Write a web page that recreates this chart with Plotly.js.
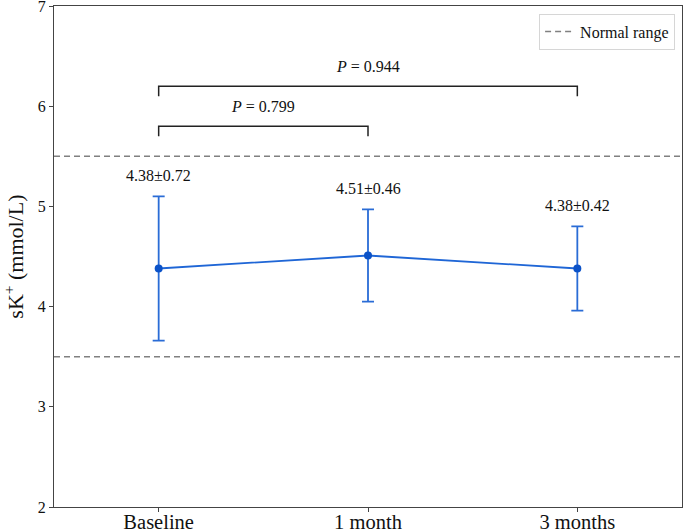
<!DOCTYPE html>
<html>
<head>
<meta charset="utf-8">
<script src="https://cdn.plot.ly/plotly-3.0.1.min.js"></script>
<style>html,body{margin:0;padding:0;background:#fff;}#chart{width:685px;height:532px;}</style>
</head>
<body>
<div id="chart"></div>
<script>
// ---- data ----
const categories = ['Baseline', '1 month', '3 months'];
const means = [4.38, 4.51, 4.38];
const sds = [0.72, 0.46, 0.42];
const valueLabels = ['4.38±0.72', '4.51±0.46', '4.38±0.42'];
const normalRange = [3.5, 5.5];
const compFrom = [0, 0];
const compTo = [1, 2];
const compP = ['0.799', '0.944'];
const compLevel = [5.8, 6.2];
const yTicks = [2, 3, 4, 5, 6, 7];
const yTitle = 'sK<sup>+</sup> (mmol/L)';

const xIdx = categories.map((c, i) => i);
const xRange = [-0.5, categories.length - 0.5];
const FONT = 'Liberation Serif, Times New Roman, serif';

const traces = [
  {
    x: xRange, y: [normalRange[1], normalRange[1]], type: 'scatter', mode: 'lines',
    name: 'Normal range', line: {color: '#808080', width: 1.5, dash: '6px,4px'},
    showlegend: true, hoverinfo: 'skip'
  },
  {
    x: xRange, y: [normalRange[0], normalRange[0]], type: 'scatter', mode: 'lines',
    name: 'Normal range', line: {color: '#808080', width: 1.5, dash: '6px,4px'},
    showlegend: false, hoverinfo: 'skip'
  },
  {
    x: xIdx, y: means, type: 'scatter', mode: 'lines+markers',
    name: 'sK+', showlegend: false,
    line: {color: '#1f66d6', width: 1.8},
    marker: {color: '#0b52c8', size: 8},
    error_y: {type: 'data', array: sds, visible: true, color: '#2a6cd6', thickness: 1.8, width: 6}
  }
];

const annotations = [];
xIdx.forEach((x, i) => {
  annotations.push({
    x: x, y: means[i] + sds[i] + 0.1, xref: 'x', yref: 'y',
    text: valueLabels[i], showarrow: false, yanchor: 'bottom', xanchor: 'center',
    font: {family: FONT, size: 16, color: '#111'}
  });
});

const shapes = [];
compFrom.forEach((f, k) => {
  const t = compTo[k], lv = compLevel[k];
  shapes.push({type: 'path', xref: 'x', yref: 'y',
    path: `M ${f},${lv - 0.1} L ${f},${lv} L ${t},${lv} L ${t},${lv - 0.1}`,
    line: {color: '#222', width: 1.5}});
  annotations.push({
    x: (f + t) / 2, y: lv + 0.09, xref: 'x', yref: 'y',
    text: '<i>P</i> = ' + compP[k], showarrow: false, yanchor: 'bottom', xanchor: 'center',
    font: {family: FONT, size: 16, color: '#111'}
  });
});

// y-axis title placed as a rotated annotation in the left margin
annotations.push({
  x: -0.065, y: 0.5, xref: 'paper', yref: 'paper', xanchor: 'center', yanchor: 'middle',
  text: yTitle, textangle: -90, showarrow: false,
  font: {family: FONT, size: 22, color: '#111'}
});

const layout = {
  width: 685, height: 532,
  margin: {l: 54, r: 3, t: 6, b: 25},
  paper_bgcolor: '#fff', plot_bgcolor: '#fff',
  font: {family: FONT, color: '#111'},
  showlegend: true,
  legend: {
    x: 0.989, y: 0.985, xanchor: 'right', yanchor: 'top',
    bgcolor: 'rgba(255,255,255,0.9)', bordercolor: '#d6d6d6', borderwidth: 1,
    font: {family: FONT, size: 16, color: '#111'}
  },
  xaxis: {
    range: xRange, tickvals: xIdx, ticktext: categories,
    showgrid: false, zeroline: false, showline: true, mirror: true,
    linecolor: '#444', linewidth: 1, ticks: 'outside', ticklen: 4, tickcolor: '#444',
    tickfont: {family: FONT, size: 20.5, color: '#111'}, automargin: false,
    ticklabeloverflow: 'allow', ticklabelstandoff: -8
  },
  yaxis: {
    range: [2, 7], tickvals: yTicks,
    showgrid: false, zeroline: false, showline: true, mirror: true,
    linecolor: '#444', linewidth: 1, ticks: 'outside', ticklen: 4, tickcolor: '#444',
    tickfont: {family: FONT, size: 16, color: '#111'}, automargin: false,
    ticklabeloverflow: 'allow'
  },
  shapes: shapes,
  annotations: annotations
};

Plotly.newPlot('chart', traces, layout, {staticPlot: true, displayModeBar: false});
</script>
</body>
</html>
